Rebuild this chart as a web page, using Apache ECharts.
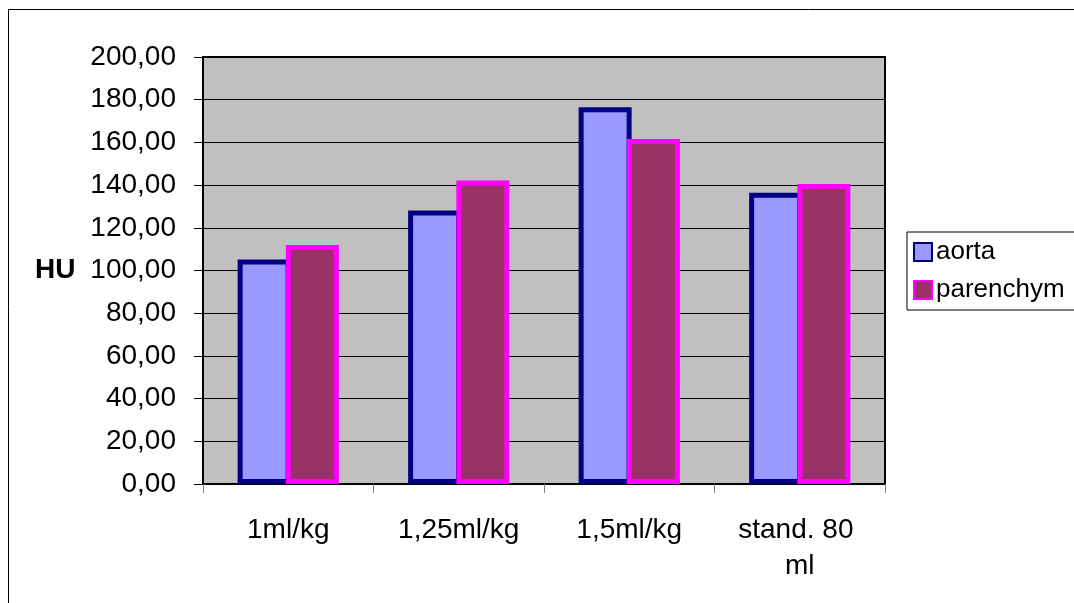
<!DOCTYPE html>
<html>
<head>
<meta charset="utf-8">
<script src="https://cdn.jsdelivr.net/npm/echarts@6/dist/echarts.min.js"></script>
<style>
  html, body { margin: 0; padding: 0; background: #fff; }
  #chart { width: 1074px; height: 603px; }
</style>
</head>
<body>
<div id="chart"></div>
<script>
// Contrast enhancement (HU) per dosing scheme
const categories = ['1ml/kg', '1,25ml/kg', '1,5ml/kg', 'stand. 80 ml'];
const aorta = [105.2, 128.1, 176.5, 136.4];
const parenchym = [112.0, 142.2, 161.6, 140.5];
const yTicks = { min: 0, max: 200, step: 20 };

const FONT = '"Liberation Sans", Arial, sans-serif';
const chart = echarts.init(document.getElementById('chart'), null, { renderer: 'canvas' });

chart.setOption({
  backgroundColor: '#ffffff',
  animation: false,
  graphic: [
    {
      type: 'rect',
      shape: { x: 8.5, y: 9.5, width: 1100, height: 700 },
      style: { fill: 'none', stroke: '#000', lineWidth: 1 },
      silent: true
    },
    {
      type: 'text',
      left: 35,
      top: 256,
      style: { text: 'HU', font: 'bold 28px ' + FONT, fill: '#000' }
    }
  ],
  grid: {
    left: 203, top: 57, right: 189, bottom: 119,
    show: true,
    backgroundColor: '#C0C0C0',
    borderColor: '#000',
    borderWidth: 2
  },
  legend: {
    orient: 'vertical',
    left: 907,
    top: 232,
    padding: [7, 30, 7, 6],
    itemWidth: 18,
    itemHeight: 18,
    itemGap: 12,
    icon: 'rect',
    borderColor: '#000',
    borderWidth: 1,
    backgroundColor: '#fff',
    textStyle: { fontFamily: FONT, fontSize: 26, color: '#000', padding: [0, 0, 0, -1] },
    data: ['aorta', 'parenchym']
  },
  xAxis: {
    type: 'category',
    data: categories,
    axisLine: { lineStyle: { color: '#000', width: 2 } },
    axisTick: { show: true, length: 9, lineStyle: { color: '#808080', width: 1 } },
    axisLabel: {
      fontFamily: FONT,
      fontSize: 28,
      color: '#000',
      margin: 28,
      lineHeight: 36,
      width: 140,
      overflow: 'break',
      interval: 0
    }
  },
  yAxis: {
    type: 'value',
    min: yTicks.min,
    max: yTicks.max,
    interval: yTicks.step,
    axisLine: { show: true, lineStyle: { color: '#000', width: 2 } },
    axisTick: { show: true, length: 9, lineStyle: { color: '#000', width: 1 } },
    splitLine: { show: true, lineStyle: { color: '#000', width: 1 } },
    axisLabel: {
      fontFamily: FONT,
      fontSize: 28,
      color: '#000',
      margin: 27,
      formatter: v => v.toFixed(2).replace('.', ',')
    }
  },
  series: [
    {
      name: 'aorta',
      type: 'bar',
      data: aorta,
      barWidth: 53,
      barGap: '-9%',
      itemStyle: { color: '#9999FF', borderColor: '#000080', borderWidth: 5 }
    },
    {
      name: 'parenchym',
      type: 'bar',
      data: parenchym,
      barWidth: 53,
      barGap: '-9%',
      itemStyle: { color: '#993366', borderColor: '#FF00FF', borderWidth: 5 }
    }
  ]
});
</script>
</body>
</html>
